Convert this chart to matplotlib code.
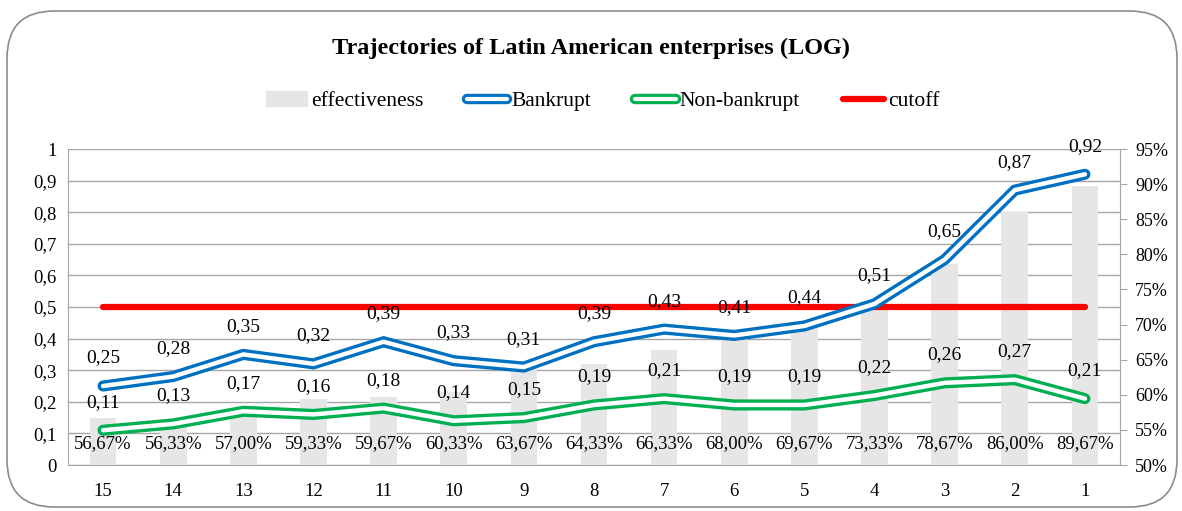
import matplotlib.pyplot as plt
from matplotlib.lines import Line2D
from matplotlib.patches import Patch, FancyBboxPatch
import numpy as np

plt.rcParams['font.family'] = ['Liberation Serif', 'DejaVu Serif']

# data
cats = ['15', '14', '13', '12', '11', '10', '9', '8', '7', '6', '5', '4', '3', '2', '1']
effectiveness = [0.5667, 0.5633, 0.5700, 0.5933, 0.5967, 0.6033, 0.6367, 0.6433,
                 0.6633, 0.6800, 0.6967, 0.7333, 0.7867, 0.8600, 0.8967]
bankrupt = [0.25, 0.28, 0.35, 0.32, 0.39, 0.33, 0.31, 0.39, 0.43, 0.41, 0.44, 0.51, 0.65, 0.87, 0.92]
non_bankrupt = [0.11, 0.13, 0.17, 0.16, 0.18, 0.14, 0.15, 0.19, 0.21, 0.19, 0.19, 0.22, 0.26, 0.27, 0.21]
cutoff = [0.5] * len(cats)

blue = '#0070C0'
green = '#00B050'
red = '#FF0000'
barc = '#E6E6E6'
gridc = '#A6A6A6'

x = np.arange(len(cats))

fig = plt.figure(figsize=(11.82, 5.11), dpi=100)
border = FancyBboxPatch((7 / 1182, 4 / 511), 1170 / 1182, 496 / 511,
                        boxstyle='round,pad=0,rounding_size=0.04',
                        transform=fig.transFigure, fill=False, ec='#8c8c8c', lw=1.2,
                        mutation_aspect=1182 / 511)
fig.patches.append(border)

ax = fig.add_axes([68 / 1182, 46 / 511, 1052 / 1182, 316 / 511])
ax.set_ylim(0, 1)
ax.set_xlim(-0.5, len(cats) - 0.5)
ax.set_yticks(np.arange(0, 1.01, 0.1))
ax.set_yticklabels(['0'] + [('%.1f' % v).replace('.', ',') for v in np.arange(0.1, 0.95, 0.1)] + ['1'])
ax.yaxis.grid(True, color=gridc, lw=1)
ax.set_axisbelow(True)
ax.tick_params(axis='y', length=0, labelsize=13.5, pad=8)
ax.set_xticks(x)
ax.set_xticklabels(cats)
ax.tick_params(axis='x', length=0, labelsize=13.5, pad=13)
for s in ['top', 'right']:
    ax.spines[s].set_visible(False)
ax.spines['left'].set_color(gridc)
ax.spines['bottom'].set_color(gridc)

# bars on right axis
ax2 = ax.twinx()
ax2.set_ylim(0.5, 0.95)
ax2.bar(x, effectiveness, width=0.38, color=barc, zorder=1)
ax2.set_yticks(np.arange(0.5, 0.951, 0.05))
ax2.set_yticklabels(['%d%%' % round(v * 100) for v in np.arange(0.5, 0.951, 0.05)])
ax2.tick_params(axis='y', length=5, color=gridc, labelsize=13, pad=6)
for s in ['top', 'left', 'bottom']:
    ax2.spines[s].set_visible(False)
ax2.spines['right'].set_color(gridc)

# lines on top
ax3 = ax.twinx()
ax3.set_ylim(0, 1)
ax3.set_yticks([])
for s in ax3.spines.values():
    s.set_visible(False)

ax3.plot(x, cutoff, color=red, lw=4.5, solid_capstyle='round')
ax3.plot(x, bankrupt, color=blue, lw=8, solid_capstyle='round', solid_joinstyle='miter')
ax3.plot(x, bankrupt, color='white', lw=3.2, solid_capstyle='round', solid_joinstyle='miter')
ax3.plot(x, non_bankrupt, color=green, lw=8, solid_capstyle='round', solid_joinstyle='miter')
ax3.plot(x, non_bankrupt, color='white', lw=3.2, solid_capstyle='round', solid_joinstyle='miter')

for xi, v in zip(x, bankrupt):
    ax3.annotate(('%.2f' % v).replace('.', ','), (xi, v), xytext=(0, 14), textcoords='offset points',
                 ha='center', va='bottom', fontsize=14)
for xi, v in zip(x, non_bankrupt):
    ax3.annotate(('%.2f' % v).replace('.', ','), (xi, v), xytext=(0, 14), textcoords='offset points',
                 ha='center', va='bottom', fontsize=14)
for xi, v in zip(x, effectiveness):
    ax3.text(xi, 0.068, ('%.2f%%' % (v * 100)).replace('.', ','), ha='center', va='center', fontsize=13.5)

fig.text(0.5, 0.905, 'Trajectories of Latin American enterprises (LOG)', ha='center', va='center',
         fontsize=17.5, fontweight='bold')

handles = [Patch(color=barc),
           (Line2D([], [], color=blue, lw=7.5, solid_capstyle='round'),
            Line2D([], [], color='white', lw=3, solid_capstyle='round')),
           (Line2D([], [], color=green, lw=7.5, solid_capstyle='round'),
            Line2D([], [], color='white', lw=3, solid_capstyle='round')),
           Line2D([], [], color=red, lw=4.5, solid_capstyle='round')]
labels = ['effectiveness', 'Bankrupt', 'Non-bankrupt', 'cutoff']
fig.legend(handles, labels, loc='center', bbox_to_anchor=(0.51, 0.802), ncol=4, frameon=False,
           fontsize=15.5, handlelength=1.9, handletextpad=0.2, columnspacing=2.0)

fig.savefig('out.png', dpi=100)
